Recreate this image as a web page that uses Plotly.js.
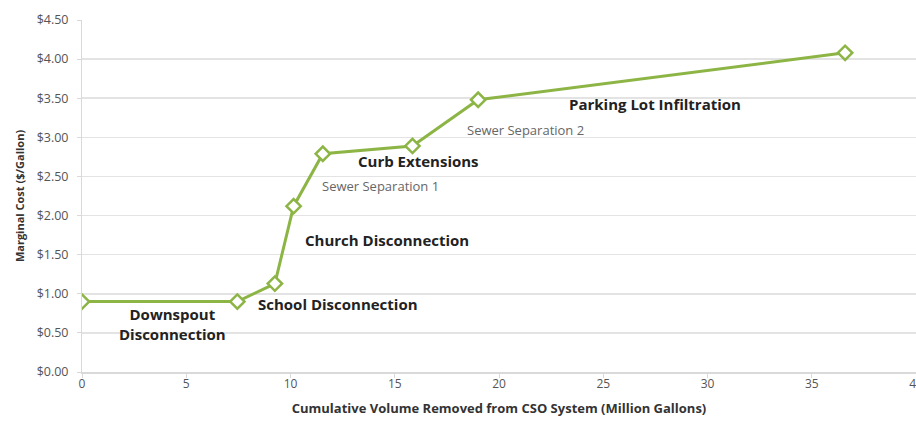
<!DOCTYPE html>
<html>
<head>
<meta charset="utf-8">
<script src="https://cdn.plot.ly/plotly-3.0.1.min.js"></script>
<style>
html,body{margin:0;padding:0;overflow:hidden;background:#fff;}
#chart{width:916px;height:424px;}
</style>
</head>
<body>
<div id="chart"></div>
<script>
// Data
var volume = [0, 7.45, 9.25, 10.15, 11.55, 15.85, 19.0, 36.6];
var cost   = [0.90, 0.90, 1.13, 2.12, 2.79, 2.89, 3.48, 4.08];

var xTicks = [0, 5, 10, 15, 20, 25, 30, 35, 40];
var yTicks = [0, 0.5, 1, 1.5, 2, 2.5, 3, 3.5, 4, 4.5];
var yTickLabels = ['$0.00','$0.50','$1.00','$1.50','$2.00','$2.50','$3.00','$3.50','$4.00','$4.50'];

var labelsBold = ['Downspout<br>Disconnection', 'School Disconnection', 'Church Disconnection', 'Curb Extensions', 'Parking Lot Infiltration'];
var labelsThin = ['Sewer Separation 1', 'Sewer Separation 2'];

var green = '#8db546';
var font = '"Open Sans", Lato, "Liberation Sans", sans-serif';

var trace = {
  x: volume, y: cost, type: 'scatter', mode: 'lines+markers',
  line: {color: green, width: 3},
  marker: {symbol: 'diamond', size: 11, color: '#ffffff', line: {color: green, width: 2.5}},
  hoverinfo: 'x+y', showlegend: false
};

function ann(text, x, y, anchor, bold) {
  return {
    text: text, x: x, y: y, xref: 'x', yref: 'y',
    xanchor: anchor, yanchor: 'middle', showarrow: false,
    align: 'center',
    font: bold ? {family: font, size: 15, color: '#222222', weight: 'bold'} : {family: font, size: 13, color: '#666666'}
  };
}

var annotations = [
  ann(labelsBold[0], 4.36, 0.62, 'center', true),
  ann(labelsBold[1], 8.35, 0.87, 'left', true),
  ann(labelsBold[2], 10.6, 1.69, 'left', true),
  ann(labelsBold[3], 13.14, 2.70, 'left', true),
  ann(labelsBold[4], 23.26, 3.42, 'left', true),
  ann(labelsThin[0], 11.41, 2.38, 'left', false),
  ann(labelsThin[1], 18.37, 3.10, 'left', false)
];

var layout = {
  width: 916, height: 424,
  margin: {l: 82, r: 0, t: 20, b: 52},
  paper_bgcolor: '#ffffff', plot_bgcolor: '#ffffff',
  font: {family: font, color: '#555555'},
  xaxis: {
    range: [0, 40], tickvals: xTicks, ticktext: xTicks.map(String),
    showgrid: false, zeroline: false,
    showline: true, linecolor: '#d9d9d9', linewidth: 2,
    ticks: 'outside', ticklen: 4, tickcolor: '#d9d9d9',
    ticklabeloverflow: 'allow', ticklabelstandoff: -4,
    tickfont: {family: font, size: 12, color: '#555555'},
    title: {text: 'Cumulative Volume Removed from CSO System (Million Gallons)', standoff: 12,
            font: {family: font, size: 13, color: '#333333', weight: 'bold'}}
  },
  yaxis: {
    range: [0, 4.5], tickvals: yTicks, ticktext: yTickLabels,
    showgrid: true, gridcolor: '#e3e3e3', gridwidth: 1.5, zeroline: false,
    showline: true, linecolor: '#d9d9d9', linewidth: 1,
    ticks: 'outside', ticklen: 4, tickcolor: '#d9d9d9',
    ticklabelstandoff: 6,
    tickfont: {family: font, size: 12.5, color: '#555555'},
    title: {text: 'Marginal Cost ($/Gallon)', standoff: 9,
            font: {family: font, size: 11, color: '#333333', weight: 'bold'}}
  },
  annotations: annotations
};

Plotly.newPlot('chart', [trace], layout, {displayModeBar: false, staticPlot: true});
</script>
</body>
</html>
